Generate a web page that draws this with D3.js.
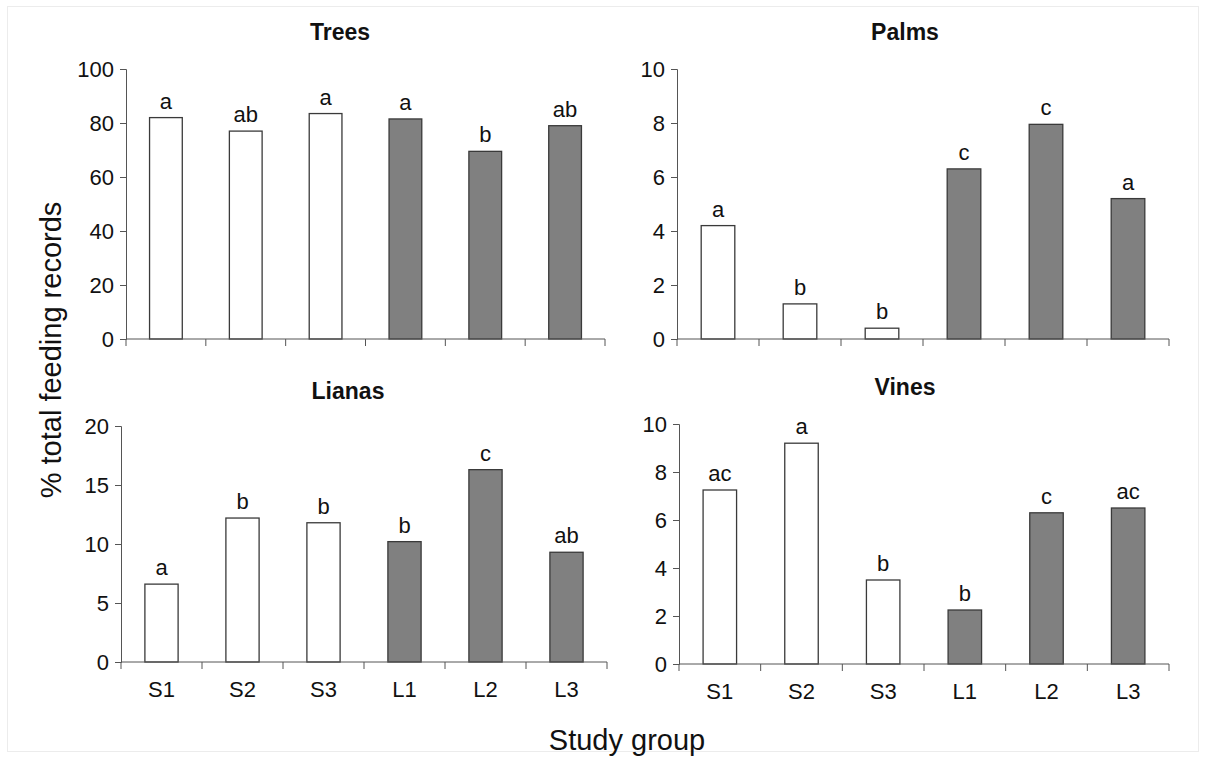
<!DOCTYPE html>
<html>
<head>
<meta charset="utf-8">
<script src="https://cdn.jsdelivr.net/npm/d3@7"></script>
<style>
  body { margin: 0; background: #fff; }
  svg { display: block; font-family: "Liberation Sans Narrow", "Arial Narrow", "Liberation Sans", Arial, sans-serif; }
</style>
</head>
<body>
<div id="chart"></div>
<script>
// study groups along the x axis; S = white bars, L = grey bars
const groups = ["S1", "S2", "S3", "L1", "L2", "L3"];

const treesValues = [82, 77, 83.5, 81.5, 69.5, 79];
const treesLetters = ["a", "ab", "a", "a", "b", "ab"];

const palmsValues = [4.2, 1.3, 0.4, 6.3, 7.95, 5.2];
const palmsLetters = ["a", "b", "b", "c", "c", "a"];

const lianasValues = [6.6, 12.2, 11.8, 10.2, 16.3, 9.3];
const lianasLetters = ["a", "b", "b", "b", "c", "ab"];

const vinesValues = [7.25, 9.2, 3.5, 2.25, 6.3, 6.5];
const vinesLetters = ["ac", "a", "b", "b", "c", "ac"];

const treesTicks = [0, 20, 40, 60, 80, 100];
const palmsTicks = [0, 2, 4, 6, 8, 10];
const lianasTicks = [0, 5, 10, 15, 20];
const vinesTicks = [0, 2, 4, 6, 8, 10];

const W = 1205, H = 757;
const axisColor = "#555";
const narrow = "'Liberation Sans Narrow', 'Arial Narrow', 'Liberation Sans', Arial, sans-serif";

const svg = d3.select("#chart").append("svg")
  .attr("width", W)
  .attr("height", H);

// faint frame round the picture
svg.append("rect")
  .attr("x", 7.5).attr("y", 6.5)
  .attr("width", W - 14).attr("height", H - 12)
  .attr("fill", "none")
  .attr("stroke", "#ececec");

// panel layout: left edge of y axis, right end of x axis, top & bottom px
const panels = [
  { title: "Trees", values: treesValues, letters: treesLetters, ticks: treesTicks, max: 100,
    x0: 126, x1: 605, top: 69, bottom: 339, titleX: 340, titleY: 40, showLabels: false },
  { title: "Palms", values: palmsValues, letters: palmsLetters, ticks: palmsTicks, max: 10,
    x0: 677, x1: 1169, top: 69, bottom: 339, titleX: 905, titleY: 40, showLabels: false },
  { title: "Lianas", values: lianasValues, letters: lianasLetters, ticks: lianasTicks, max: 20,
    x0: 121, x1: 607, top: 426, bottom: 662, titleX: 348, titleY: 399, showLabels: true },
  { title: "Vines", values: vinesValues, letters: vinesLetters, ticks: vinesTicks, max: 10,
    x0: 679, x1: 1169, top: 424, bottom: 664, titleX: 905, titleY: 395, showLabels: true },
];

panels.forEach((p) => {
  const g = svg.append("g");

  const x = d3.scaleBand().domain(groups).range([p.x0, p.x1]).paddingInner(0.59).paddingOuter(0.295);
  const y = d3.scaleLinear().domain([0, p.max]).range([p.bottom, p.top]);

  // bars
  g.selectAll("rect.bar")
    .data(p.values)
    .join("rect")
    .attr("class", "bar")
    .attr("x", (d, i) => x(groups[i]))
    .attr("y", (d) => y(d))
    .attr("width", x.bandwidth())
    .attr("height", (d) => y(0) - y(d))
    .attr("fill", (d, i) => (groups[i][0] == "S" ? "#fff" : "#808080"))
    .attr("stroke", "#3a3a3a")
    .attr("stroke-width", 1.3);

  // significance letters
  g.selectAll("text.letter")
    .data(p.values)
    .join("text")
    .attr("class", "letter")
    .attr("x", (d, i) => x(groups[i]) + x.bandwidth() / 2)
    .attr("y", (d) => y(d) - 9)
    .attr("text-anchor", "middle")
    .attr("font-size", 22)
    .attr("fill", "#111")
    .text((d, i) => p.letters[i]);

  // y axis
  g.append("g")
    .attr("transform", `translate(${p.x0},0)`)
    .call(d3.axisLeft(y).tickValues(p.ticks).tickSize(6).tickSizeOuter(6).tickPadding(6))
    .call((a) => a.select(".domain").attr("stroke", axisColor))
    .call((a) => a.selectAll(".tick line").attr("stroke", axisColor))
    .call((a) => a.selectAll(".tick text")
      .attr("font-size", 22)
      .attr("font-family", narrow)
      .attr("fill", "#111"));

  // x axis: ticks sit on the band boundaries
  const xb = d3.scaleLinear().domain([0, groups.length]).range([p.x0, p.x1]);
  const xa = g.append("g").attr("transform", `translate(0,${p.bottom})`);
  xa.append("line")
    .attr("x1", p.x0).attr("x2", p.x1)
    .attr("stroke", axisColor);
  xa.selectAll("line.tk")
    .data(d3.range(groups.length + 1))
    .join("line")
    .attr("class", "tk")
    .attr("x1", (d) => xb(d)).attr("x2", (d) => xb(d))
    .attr("y1", 0).attr("y2", 7)
    .attr("stroke", axisColor);

  if (p.showLabels) {
    xa.selectAll("text.grp")
      .data(groups)
      .join("text")
      .attr("class", "grp")
      .attr("x", (d) => x(d) + x.bandwidth() / 2)
      .attr("y", 35)
      .attr("text-anchor", "middle")
      .attr("font-size", 22)
      .attr("fill", "#111")
      .text((d) => d);
  }

  // panel title
  g.append("text")
    .attr("x", p.titleX)
    .attr("y", p.titleY)
    .attr("text-anchor", "middle")
    .attr("font-size", 23)
    .attr("font-weight", "bold")
    .attr("fill", "#111")
    .text(p.title);
});

// shared axis titles
svg.append("text")
  .attr("x", 627)
  .attr("y", 750)
  .attr("text-anchor", "middle")
  .attr("font-size", 29)
  .attr("fill", "#111")
  .text("Study group");

svg.append("text")
  .attr("transform", "translate(61,350) rotate(-90)")
  .attr("text-anchor", "middle")
  .attr("font-size", 29)
  .attr("font-family", "'Liberation Sans', Arial, sans-serif")
  .attr("fill", "#111")
  .text("% total feeding records");
</script>
</body>
</html>
